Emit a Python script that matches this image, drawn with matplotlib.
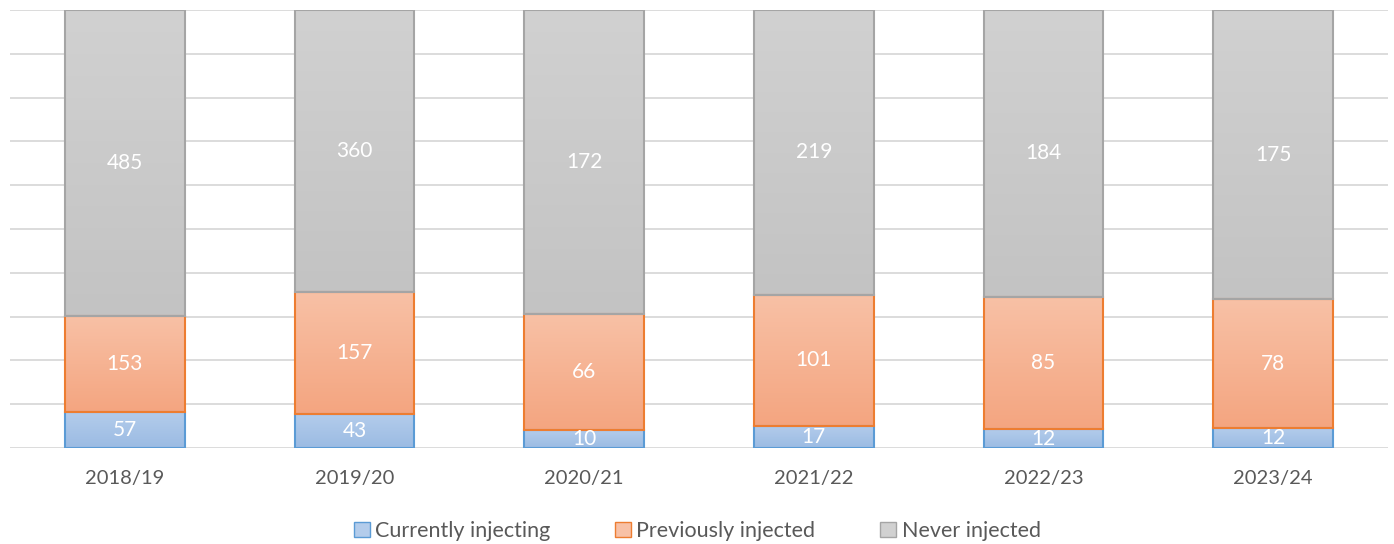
import numpy as np
import matplotlib.pyplot as plt
from matplotlib.colors import LinearSegmentedColormap
from matplotlib.patches import Patch

plt.rcParams['font.family'] = ['Lato', 'DejaVu Sans']

years = ["2018/19", "2019/20", "2020/21", "2021/22", "2022/23", "2023/24"]
currently = [57, 43, 10, 17, 12, 12]
previously = [153, 157, 66, 101, 85, 78]
never = [485, 360, 172, 219, 184, 175]

series = [
    ("Currently injecting", currently, "#9bbbe3", "#b3cceb", "#5b9bd5"),
    ("Previously injected", previously, "#f4a580", "#f8c1a6", "#ed7d31"),
    ("Never injected", never, "#c3c3c3", "#d1d1d1", "#a5a5a5"),
]

fig = plt.figure(figsize=(13.94, 5.44), dpi=100)
ax = fig.add_axes([10 / 1394, 96 / 544, 1378 / 1394, 438 / 544])

x = np.arange(len(years))
totals = np.array(currently) + np.array(previously) + np.array(never)
width = 0.52
bottom = np.zeros(len(years))
grad = np.linspace(0, 1, 256).reshape(-1, 1)

for name, vals, c_bot, c_top, edge in series:
    share = np.array(vals) / totals * 100
    cmap = LinearSegmentedColormap.from_list(name, [c_bot, c_top])
    for i in range(len(years)):
        y0, y1 = bottom[i], bottom[i] + share[i]
        ax.imshow(grad, cmap=cmap, origin="lower", aspect="auto",
                  extent=[x[i] - width / 2, x[i] + width / 2, y0, y1], zorder=2)
        ax.bar(x[i], share[i], width, bottom=y0, facecolor="none",
               edgecolor=edge, linewidth=1.5, zorder=3)
        ax.text(x[i], (y0 + y1) / 2, str(vals[i]), ha="center", va="center",
                color="white", fontsize=15, zorder=4)
    bottom += share

ax.set_xlim(-0.5, len(years) - 0.5)
ax.set_ylim(0, 100)
ax.set_yticks(np.arange(0, 101, 10))
ax.yaxis.grid(True, color="#d9d9d9", linewidth=1.3, zorder=0)
ax.set_axisbelow(True)
ax.tick_params(axis="y", left=False, labelleft=False)
ax.tick_params(axis="x", bottom=False, labelsize=14.5, labelcolor="#595959", pad=12)
ax.set_xticks(x)
ax.set_xticklabels(years)
for s in ax.spines.values():
    s.set_visible(False)

handles = [Patch(facecolor=c_top, edgecolor=edge, label=name)
           for name, _, c_bot, c_top, edge in series]
fig.legend(handles=handles, loc="center", bbox_to_anchor=(0.5, 13 / 544), ncol=3,
           frameon=False, fontsize=15.5, labelcolor="#595959", handlelength=0.75,
           handleheight=0.75, handletextpad=0.25, columnspacing=3.0)

fig.savefig("out.png", dpi=100)
